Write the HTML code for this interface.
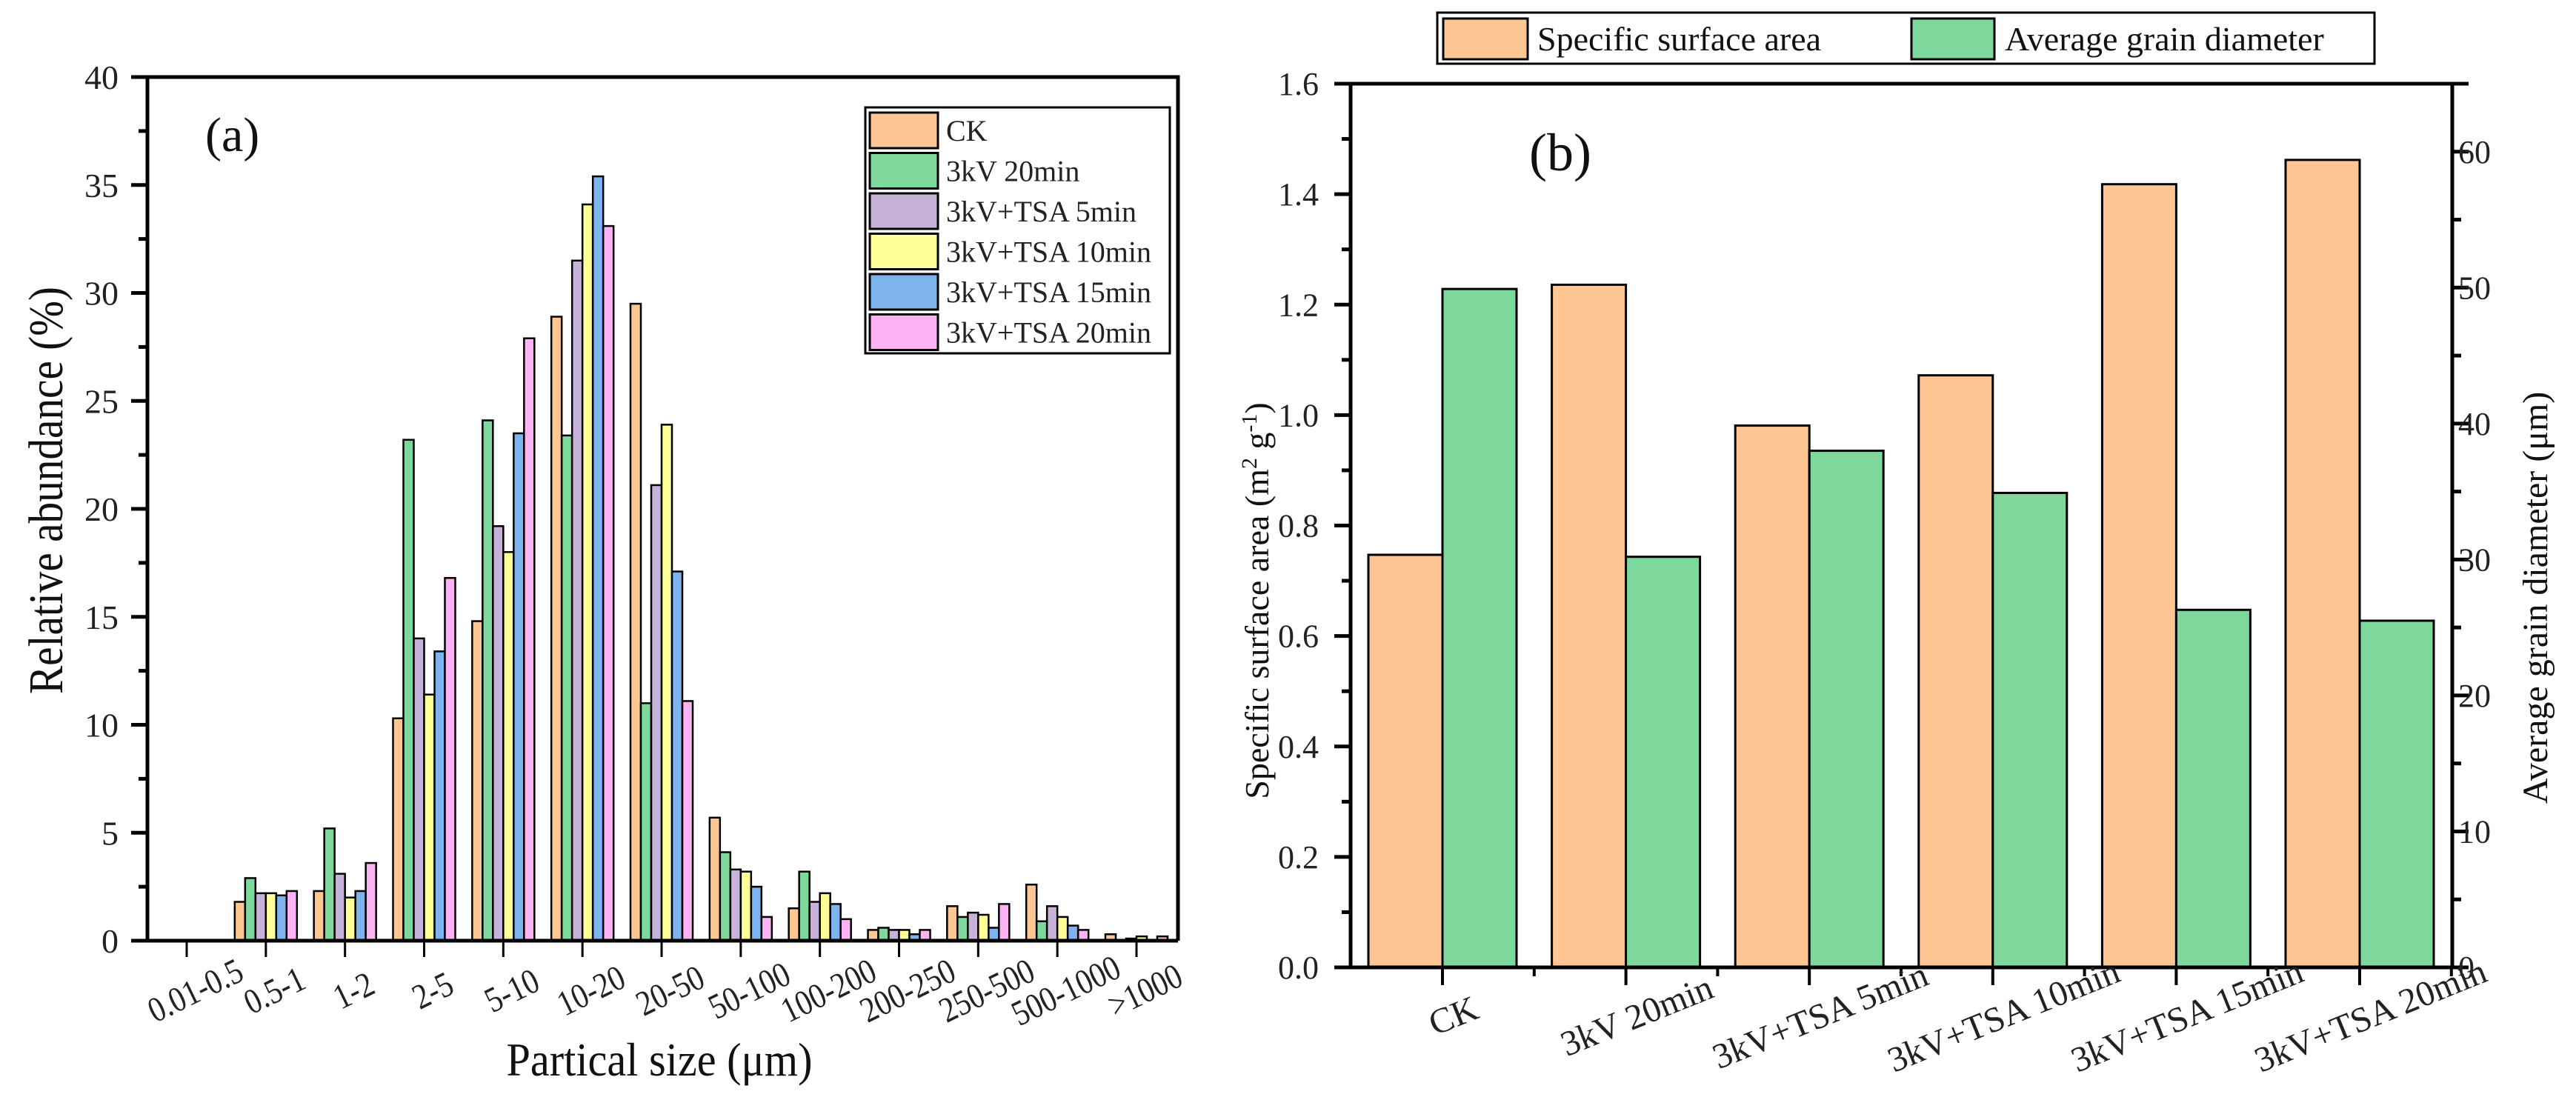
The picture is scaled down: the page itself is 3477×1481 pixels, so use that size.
<!DOCTYPE html>
<html><head><meta charset="utf-8"><style>
html,body{margin:0;padding:0;background:#fff;}
svg{display:block;font-family:"Liberation Serif",serif;}
</style></head><body>
<svg id="fig" width="3477" height="1481" viewBox="0 0 3477 1481" xmlns="http://www.w3.org/2000/svg">
<g id="chartA"></g>
<g id="chartB"></g>
</svg>
<script>
// ---------- Chart (a) data ----------
const catsA = ["0.01-0.5","0.5-1","1-2","2-5","5-10","10-20","20-50","50-100","100-200","200-250","250-500","500-1000",">1000"];
const seriesNamesA = ["CK","3kV 20min","3kV+TSA 5min","3kV+TSA 10min","3kV+TSA 15min","3kV+TSA 20min"];
const ckA    = [0,1.8,2.3,10.3,14.8,28.9,29.5,5.7,1.5,0.5,1.6,2.6,0.3];
const kv20A  = [0,2.9,5.2,23.2,24.1,23.4,11.0,4.1,3.2,0.6,1.1,0.9,0.0];
const tsa5A  = [0,2.2,3.1,14.0,19.2,31.5,21.1,3.3,1.8,0.5,1.3,1.6,0.1];
const tsa10A = [0,2.2,2.0,11.4,18.0,34.1,23.9,3.2,2.2,0.5,1.2,1.1,0.2];
const tsa15A = [0,2.1,2.3,13.4,23.5,35.4,17.1,2.5,1.7,0.3,0.6,0.7,0.0];
const tsa20A = [0,2.3,3.6,16.8,27.9,33.1,11.1,1.1,1.0,0.5,1.7,0.5,0.2];
const yTicksA = [0,5,10,15,20,25,30,35,40];
// ---------- Chart (b) data ----------
const catsB = ["CK","3kV 20min","3kV+TSA 5min","3kV+TSA 10min","3kV+TSA 15min","3kV+TSA 20min"];
const ssaB = [0.747,1.236,0.981,1.072,1.418,1.462];
const grainB = [49.9,30.2,38.0,34.9,26.3,25.5];
const yTicksB = ["0.0","0.2","0.4","0.6","0.8","1.0","1.2","1.4","1.6"];
const y2TicksB = [0,10,20,30,40,50,60];

const NS="http://www.w3.org/2000/svg";
function mk(parent,tag,attrs,text){const e=document.createElementNS(NS,tag);for(const k in attrs)e.setAttribute(k,attrs[k]);if(text!==undefined)e.textContent=text;parent.appendChild(e);return e;}

const colorsA=["#FEC693","#7ED79B","#C7B3DA","#FFFF98","#7EB4EE","#FDB2F3"];

// ===== Chart A =====
(function(){
const g=document.getElementById('chartA');
const L=199,R=1590,T=104,B=1270,ymax=40;
const y=v=>B-(v/ymax)*(B-T);
const x0=252,step=(1534-252)/12;
const xc=i=>x0+i*step;
const bw=14;
const allS=[ckA,kv20A,tsa5A,tsa10A,tsa15A,tsa20A];
allS.forEach((s,si)=>{
  s.forEach((v,i)=>{
    const bx=xc(i)-3*bw+si*bw;
    const r=mk(g,'rect',{x:bx,y:y(v),width:bw,height:Math.max(0,B-y(v)),fill:colorsA[si],stroke:'#000','stroke-width':2.5});
    
    
  });
});
const ax=mk(g,'path',{d:`M${L-20},${T} H${R} V${B} M${L},${T} V${B} M${L-20},${B} H${R}`,stroke:'#000','stroke-width':5,fill:'none'});

yTicksA.forEach(v=>{
  mk(g,'line',{x1:L-22,x2:L,y1:y(v),y2:y(v),stroke:'#000','stroke-width':5});
  const t=mk(g,'text',{x:160,y:y(v)+16,'text-anchor':'end','font-size':46,fill:'#222'},v);
  
  if(v<40) mk(g,'line',{x1:L-12,x2:L,y1:y(v+2.5),y2:y(v+2.5),stroke:'#000','stroke-width':5});
});
catsA.forEach((c,i)=>{
  mk(g,'line',{x1:xc(i),x2:xc(i),y1:B,y2:B+22,stroke:'#000','stroke-width':3});
  const cx=xc(i)+12, cy=1338;
  const t=mk(g,'text',{x:cx,y:cy+15,'text-anchor':'middle','font-size':48,fill:'#222',transform:`rotate(-26 ${cx} ${cy}) scale(0.85 1) translate(${cx/0.85-cx} 0)`},c);
  
});
let t=mk(g,'text',{x:890,y:1452,'text-anchor':'middle','font-size':64,fill:'#111',textLength:413,lengthAdjust:'spacingAndGlyphs'},'Partical size (μm)');

t=mk(g,'text',{x:0,y:0,'text-anchor':'middle','font-size':66,fill:'#111',textLength:550,lengthAdjust:'spacingAndGlyphs',transform:'translate(84,662) rotate(-90)'},'Relative abundance (%)');

t=mk(g,'text',{x:277,y:204,'font-size':66,fill:'#111'},'(a)');

const lg=mk(g,'g',{});

mk(lg,'rect',{x:1168,y:145,width:411,height:332,fill:'#fff',stroke:'#000','stroke-width':3});
seriesNamesA.forEach((n,i)=>{
  const yy=152+i*54.5;
  const e=mk(lg,'g',{});
  
  mk(e,'rect',{x:1174,y:yy,width:92,height:48,fill:colorsA[i],stroke:'#000','stroke-width':3});
  mk(e,'text',{x:1277,y:yy+38,'font-size':40,fill:'#222'},n);
});
})();

// ===== Chart B =====
(function(){
const g=document.getElementById('chartB');
const L=1823,R=3310,T=113,B=1306,ymax=1.6,y2max=65;
const y=v=>B-(v/ymax)*(B-T);
const y2=v=>B-(v/y2max)*(B-T);
const x0=1947,step=(3185-1947)/5,bw=100;
const xc=i=>x0+i*step;
ssaB.forEach((v,i)=>{
  const r=mk(g,'rect',{x:xc(i)-bw,y:y(v),width:bw,height:B-y(v),fill:'#FEC693',stroke:'#000','stroke-width':3});
  
});
grainB.forEach((v,i)=>{
  const r=mk(g,'rect',{x:xc(i),y:y2(v),width:bw,height:B-y2(v),fill:'#7ED79B',stroke:'#000','stroke-width':3});
  
});
const ax=mk(g,'path',{d:`M${L-22},${T} H${R+22} M${L},${T} V${B} M${R},${T} V${B} M${L-22},${B} H${R+22}`,stroke:'#000','stroke-width':5,fill:'none'});

yTicksB.forEach((lab,k)=>{
  const v=parseFloat(lab);
  mk(g,'line',{x1:L-22,x2:L,y1:y(v),y2:y(v),stroke:'#000','stroke-width':5});
  if(k<yTicksB.length-1) mk(g,'line',{x1:L-12,x2:L,y1:y(v+0.1),y2:y(v+0.1),stroke:'#000','stroke-width':5});
  const t=mk(g,'text',{x:1780,y:y(v)+15,'text-anchor':'end','font-size':44,fill:'#222'},lab);
  
});
y2TicksB.forEach(v=>{
  mk(g,'line',{x1:R,x2:R+22,y1:y2(v),y2:y2(v),stroke:'#000','stroke-width':5});
  if(v+5<=y2max) mk(g,'line',{x1:R,x2:R+12,y1:y2(v+5),y2:y2(v+5),stroke:'#000','stroke-width':5});
  const t=mk(g,'text',{x:3318,y:y2(v)+15,'font-size':44,fill:'#222'},v);
  
});
catsB.forEach((c,i)=>{
  mk(g,'line',{x1:xc(i),x2:xc(i),y1:B,y2:B+24,stroke:'#000','stroke-width':4});
  mk(g,'line',{x1:xc(i)+step/2,x2:xc(i)+step/2,y1:B,y2:B+12,stroke:'#000','stroke-width':4});
  const cx=xc(i)+15, cy=1372;
  const t=mk(g,'text',{x:cx,y:cy+15,'text-anchor':'middle','font-size':48,fill:'#222',transform:`rotate(-22 ${cx} ${cy})`},c);
  
});
let t=mk(g,'text',{x:0,y:0,'text-anchor':'middle','font-size':46,fill:'#111',transform:'translate(1712,811) rotate(-90)'});

t.innerHTML='Specific surface area (m<tspan dy="-16" font-size="30">2</tspan><tspan dy="16"> g</tspan><tspan dy="-16" font-size="30">-1</tspan><tspan dy="16">)</tspan>';
t=mk(g,'text',{x:0,y:0,'text-anchor':'middle','font-size':48,fill:'#111',transform:'translate(3438,807) rotate(-90)'},'Average grain diameter (μm)');

t=mk(g,'text',{x:2064,y:230,'font-size':72,fill:'#111'},'(b)');

const lg=mk(g,'g',{});

mk(lg,'rect',{x:1940,y:17,width:1265,height:69,fill:'#fff',stroke:'#000','stroke-width':3});
let e=mk(lg,'g',{});
mk(e,'rect',{x:1948,y:25,width:114,height:55,fill:'#FEC693',stroke:'#000','stroke-width':3});
mk(e,'text',{x:2075,y:68,'font-size':46,fill:'#111'},'Specific surface area');
e=mk(lg,'g',{});
mk(e,'rect',{x:2580,y:25,width:112,height:55,fill:'#7ED79B',stroke:'#000','stroke-width':3});
mk(e,'text',{x:2706,y:68,'font-size':46,fill:'#111'},'Average grain diameter');
})();
</script>
</body></html>
